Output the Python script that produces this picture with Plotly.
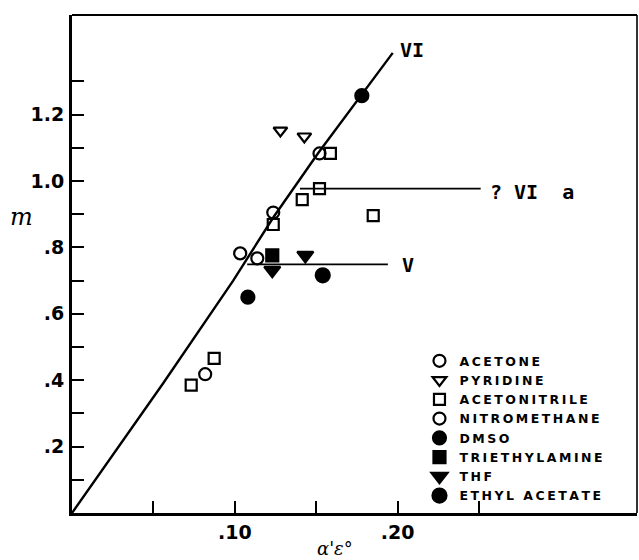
import plotly.graph_objects as go

# Solvent data: slope m versus alpha' * eps0
acetone_x = [0.1033, 0.1236, 0.1520]
acetone_y = [0.782, 0.905, 1.083]
pyridine_x = [0.1280, 0.1427]
pyridine_y = [1.152, 1.134]
acetonitrile_x = [0.1587, 0.1520, 0.1414, 0.1236, 0.1850, 0.0732, 0.0873]
acetonitrile_y = [1.083, 0.977, 0.944, 0.869, 0.896, 0.385, 0.466]
nitromethane_x = [0.1138, 0.0818]
nitromethane_y = [0.767, 0.418]
dmso_x = [0.1780, 0.1080]
dmso_y = [1.257, 0.650]
triethylamine_x = [0.1230]
triethylamine_y = [0.776]
thf_x = [0.1433, 0.1230]
thf_y = [0.776, 0.731]
ethyl_acetate_x = [0.1540]
ethyl_acetate_y = [0.716]

# Hand-drawn correlation lines
line_vi_x = [0.0, 0.056, 0.099, 0.1236, 0.151, 0.197]
line_vi_y = [0.0, 0.391, 0.700, 0.890, 1.083, 1.386]
line_via_x = [0.140, 0.251]
line_via_y = [0.977, 0.977]
line_v_x = [0.1076, 0.194]
line_v_y = [0.749, 0.749]

y_ticks = [0.1, 0.2, 0.3, 0.4, 0.5, 0.6, 0.7, 0.8, 0.9, 1.0, 1.1, 1.2, 1.3]
y_labels = ["", ".2", "", ".4", "", ".6", "", ".8", "", "1.0", "", "1.2", ""]
x_ticks = [0.05, 0.10, 0.15, 0.20, 0.25]
x_labels = ["", ".10", "", ".20", ""]

TS = "\u2009"  # thin space for the spaced lettering of the key


def spaced(s):
    return TS.join(s)


fig = go.Figure()

for xs, ys in [(line_vi_x, line_vi_y), (line_via_x, line_via_y), (line_v_x, line_v_y)]:
    fig.add_trace(go.Scatter(x=xs, y=ys, mode="lines", showlegend=False,
                             line=dict(color="black", width=2.4 if xs is line_vi_x else 1.6),
                             hoverinfo="skip"))

series = [
    ("ACETONE", acetone_x, acetone_y, "circle-open", 12),
    ("PYRIDINE", pyridine_x, pyridine_y, "triangle-down-open", 12),
    ("ACETONITRILE", acetonitrile_x, acetonitrile_y, "square-open", 11),
    ("NITROMETHANE", nitromethane_x, nitromethane_y, "circle-open", 12),
    ("DMSO", dmso_x, dmso_y, "circle", 13),
    ("TRIETHYLAMINE", triethylamine_x, triethylamine_y, "square", 12),
    ("THF", thf_x, thf_y, "triangle-down", 14),
    ("ETHYL ACETATE", ethyl_acetate_x, ethyl_acetate_y, "circle", 14),
]
for name, xs, ys, sym, size in series:
    fig.add_trace(go.Scatter(
        x=xs, y=ys, mode="markers", name=spaced(name),
        marker=dict(symbol=sym, size=size, color="black",
                    line=dict(color="black", width=2.2)),
    ))

label_font = dict(family="DejaVu Sans Mono", size=20, color="black", weight="bold")
fig.add_annotation(x=0.2005, y=1.395, text="VI", showarrow=False,
                   xanchor="left", yanchor="middle", font=label_font)
fig.add_annotation(x=0.2552, y=0.968, text="?&nbsp;VI&nbsp;&nbsp;a", showarrow=False,
                   xanchor="left", yanchor="middle", font=label_font)
fig.add_annotation(x=0.2017, y=0.746, text="V", showarrow=False,
                   xanchor="left", yanchor="middle", font=label_font)

# Axis titles
fig.add_annotation(xref="paper", yref="paper", x=-0.0885, y=0.595,
                   text="<i>m</i>", showarrow=False, xanchor="center",
                   font=dict(family="DejaVu Serif", size=24, color="black"))
fig.add_annotation(xref="paper", yref="paper", x=0.465, y=-0.071,
                   text="<i>α'ε°</i>", showarrow=False, yanchor="middle",
                   font=dict(family="DejaVu Serif", size=18, color="black"))

# Thinner top and right frame
fig.add_shape(type="line", xref="paper", yref="paper", x0=0, x1=1, y0=1, y1=1,
              line=dict(color="black", width=2.2))
fig.add_shape(type="line", xref="paper", yref="paper", x0=1, x1=1, y0=0, y1=1,
              line=dict(color="black", width=1.6))

tick_font = dict(family="DejaVu Sans", size=19, color="black", weight="bold")
fig.update_xaxes(range=[0, 0.347], showgrid=False, zeroline=False,
                 showline=True, linecolor="black", linewidth=3,
                 ticks="inside", ticklen=12, tickwidth=1.6, tickcolor="black",
                 tickvals=x_ticks, ticktext=x_labels, tickfont=tick_font,
                 ticklabelstandoff=0)
fig.update_yaxes(range=[0, 1.5], showgrid=False, zeroline=False,
                 showline=True, linecolor="black", linewidth=3,
                 ticks="inside", ticklen=12, tickwidth=2, tickcolor="black",
                 tickvals=y_ticks, ticktext=y_labels, tickfont=tick_font,
                 ticklabelstandoff=1)

fig.update_layout(
    width=639, height=560,
    margin=dict(l=72, r=2, t=15, b=47),
    paper_bgcolor="white", plot_bgcolor="white",
    legend=dict(x=0.615, y=0.335, xanchor="left", yanchor="top",
                bgcolor="rgba(0,0,0,0)", itemwidth=30,
                font=dict(family="DejaVu Sans", size=12.5, color="black", weight="bold"),
                tracegroupgap=0),
)

fig.write_html("out.html")
